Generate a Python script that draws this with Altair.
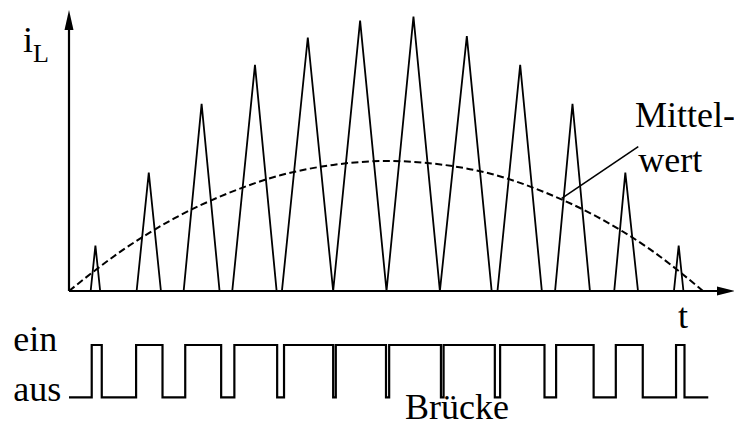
import altair as alt
import pandas as pd

# ---- data (time in switching periods T, current in units of the peak mean value)
tri_left = [0.41, 1.28, 2.17, 3.09, 4.03, 5.00, 6.01, 7.02, 8.11, 9.20, 10.32, 11.45]
tri_peak = [0.50, 1.51, 2.51, 3.52, 4.52, 5.51, 6.52, 7.53, 8.54, 9.53, 10.53, 11.54]
tri_right = [0.59, 1.74, 2.85, 3.93, 5.00, 6.01, 7.02, 8.00, 8.95, 9.86, 10.77, 11.63]
peak_current = [0.35, 0.91, 1.44, 1.74, 1.95, 2.08, 2.11, 1.96, 1.74, 1.44, 0.91, 0.35]

mean_t = [0, 1, 2, 3, 4, 5, 6, 7, 8, 9, 10, 11, 12]
mean_i = [0.0, 0.31, 0.56, 0.75, 0.89, 0.97, 1.0, 0.975, 0.90, 0.76, 0.57, 0.32, 0.0]

switch_on = [0.43, 1.27, 2.20, 3.13, 4.07, 5.05, 6.06, 7.09, 8.16, 9.22, 10.35, 11.49]
switch_off = [0.62, 1.77, 2.88, 3.94, 5.00, 6.00, 7.04, 8.06, 9.00, 9.93, 10.86, 11.65]
switch_start, switch_end = 0.0, 12.1

labels = {"i": "i", "L": "L", "t": "t", "ein": "ein", "aus": "aus",
          "bruecke": "Brücke", "m1": "Mittel-", "m2": "wert"}

# ---- tables
tri_rows = []
for a, p, b, h in zip(tri_left, tri_peak, tri_right, peak_current):
    tri_rows += [(a, 0.0), (p, h), (b, 0.0)]
df_tri = pd.DataFrame(tri_rows, columns=["t", "i"])
df_tri["o"] = range(len(df_tri))

df_mean = pd.DataFrame({"t": mean_t, "i": mean_i})

sw_rows = [(switch_start, 0)]
for on, off in zip(switch_on, switch_off):
    sw_rows += [(on, 1), (off, 0)]
sw_rows.append((switch_end, 0))
df_sw = pd.DataFrame(sw_rows, columns=["t", "s"])
df_sw["o"] = range(len(df_sw))

one = pd.DataFrame({"a": [0]})

FONT = "Liberation Serif"
xs = alt.Scale(domain=[-1.1546, 12.587], nice=False, zero=False)
ys = alt.Scale(domain=[-1.054, 2.177], nice=False, zero=False)
ysw = alt.Scale(domain=[-0.587, 7.443], nice=False, zero=False)


def X(v):
    return alt.XDatum(v, type="quantitative", scale=xs, axis=None)


def Y(v):
    return alt.YDatum(v, type="quantitative", scale=ys, axis=None)


def label(key, t, v, size=36):
    return alt.Chart(one).mark_text(
        text=labels[key], font=FONT, fontSize=size, align="left",
        baseline="alphabetic", color="black"
    ).encode(x=X(t), y=Y(v))


tri = alt.Chart(df_tri).mark_line(color="black", strokeWidth=1.8).encode(
    x=alt.X("t:Q", scale=xs, axis=None),
    y=alt.Y("i:Q", scale=ys, axis=None),
    order="o:Q",
)

mean = alt.Chart(df_mean).mark_line(
    color="black", strokeWidth=2, strokeDash=[7, 3.5], interpolate="monotone"
).encode(
    x=alt.X("t:Q", scale=xs, axis=None),
    y=alt.Y("i:Q", scale=ys, axis=None),
)

sw = alt.Chart(df_sw).mark_line(
    color="black", strokeWidth=2.2, interpolate="step-after"
).encode(
    x=alt.X("t:Q", scale=xs, axis=None),
    y=alt.Y("s:Q", scale=ysw, axis=None),
    order="o:Q",
)

y_axis = alt.Chart(one).mark_rule(color="black", strokeWidth=2.2).encode(
    x=X(0.0), y=Y(0.0), y2=alt.Y2Datum(2.05)
)
x_axis = alt.Chart(one).mark_rule(color="black", strokeWidth=2.2).encode(
    x=X(0.0), x2=alt.X2Datum(12.3), y=Y(0.0)
)
y_arrow = alt.Chart(one).mark_point(
    shape="M0,-1L0.45,1L-0.45,1Z", size=400, filled=True, color="black", opacity=1, strokeWidth=0
).encode(x=X(0.0), y=Y(2.0846))
x_arrow = alt.Chart(one).mark_point(
    shape="M1,0L-1,-0.5L-1,0.5Z", size=324, filled=True, color="black", opacity=1, strokeWidth=0
).encode(x=X(12.435), y=Y(0.0))

pointer = alt.Chart(one).mark_rule(color="black", strokeWidth=1.6).encode(
    x=X(9.326), y=Y(0.713), x2=alt.X2Datum(10.775), y2=alt.Y2Datum(1.110)
)

texts = [
    label("i", -0.871, 1.841, 36),
    label("L", -0.681, 1.764, 26),
    label("t", 11.527, -0.285, 36),
    label("ein", -1.054, -0.4615, 36),
    label("aus", -1.054, -0.846, 36),
    label("bruecke", 6.36, -0.985, 36),
    label("m1", 10.713, 1.259, 36),
    label("m2", 10.775, 0.918, 36),
]

chart = alt.layer(
    mean, tri, x_axis, y_axis, x_arrow, y_arrow, pointer, sw, *texts
).resolve_scale(y="independent").properties(
    width=726, height=420,
    autosize=alt.AutoSizeParams(type="none"),
    padding=0, background="white",
).configure_view(stroke=None)

chart.save("out.html", embed_options={"renderer": "svg", "actions": False})
